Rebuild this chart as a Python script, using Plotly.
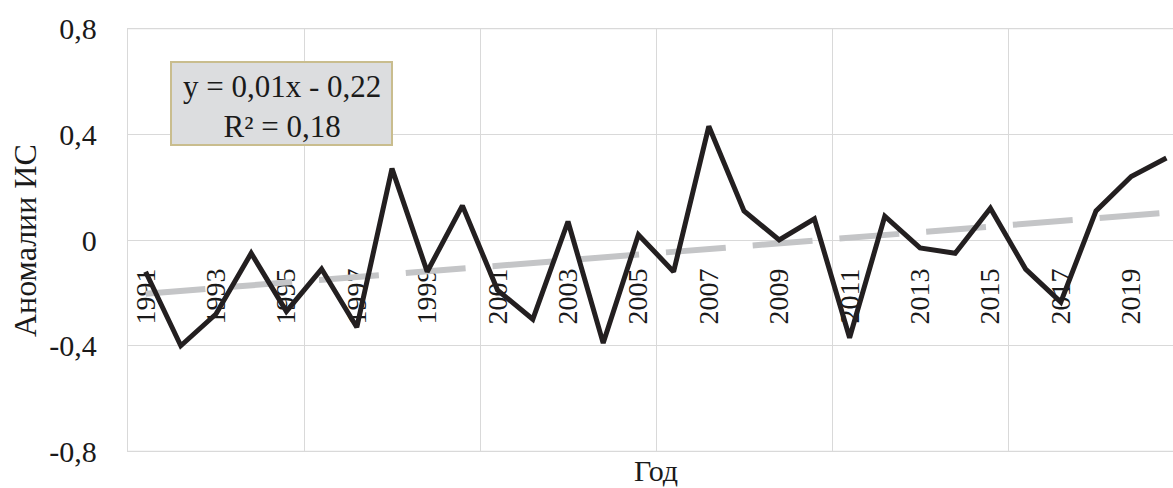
import numpy as np
import plotly.graph_objects as go

years = list(range(1991, 2021))
anomalies = [-0.12, -0.40, -0.28, -0.05, -0.27, -0.11, -0.33, 0.27, -0.12, 0.13,
             -0.19, -0.30, 0.07, -0.39, 0.02, -0.12, 0.43, 0.11, 0.0, 0.08,
             -0.37, 0.09, -0.03, -0.05, 0.12, -0.11, -0.235, 0.11, 0.24, 0.31]
label_years = [y for y in years if y % 2 == 1]
label_text = [str(y) for y in label_years]
y_ticks = [-0.8, -0.4, 0, 0.4, 0.8]
y_labels = ["-0,8", "-0,4", "0", "0,4", "0,8"]
equation_lines = ["y = 0,01x - 0,22", "R² = 0,18"]

# linear trend (as in Excel) over category index
idx = np.arange(1, len(years) + 1)
k, b = np.polyfit(idx, anomalies, 1)
trend = (k * idx + b).tolist()

FONT = "Liberation Serif, Times New Roman, serif"
TXT = "#1a1a1a"
GRID = "#d9d9d9"

fig = go.Figure()
fig.add_trace(go.Scatter(x=years, y=trend, mode="lines",
                         line=dict(color="#c4c5c7", width=6, dash="60px,27px"),
                         hoverinfo="skip", showlegend=False))
fig.add_trace(go.Scatter(x=years, y=anomalies, mode="lines",
                         line=dict(color="#231f20", width=5),
                         showlegend=False))

W, H = 1173, 488
L, T, B = 128, 28, 36
pxyr = 35.2
xr = [1990.5, 1990.5 + (W - L) / pxyr]

fig.update_layout(
    width=W, height=H,
    margin=dict(l=L, r=0, t=T, b=B, pad=0),
    paper_bgcolor="white", plot_bgcolor="white",
    font=dict(family=FONT, color=TXT),
    showlegend=False,
    xaxis=dict(
        range=xr, tickmode="array", tickvals=label_years, ticktext=label_text,
        tickangle=-90, tickfont=dict(size=28, family=FONT, color=TXT),
        showgrid=False, zeroline=False, showline=False, ticks="",
        anchor="free", position=0.5, layer="below traces",
        ticklabelstandoff=22,
        minor=dict(tick0=1990.5, dtick=5, showgrid=True, gridcolor=GRID,
                   gridwidth=1.3, ticks=""),
    ),
    yaxis=dict(
        range=[-0.802, 0.802], tickmode="array", tickvals=y_ticks, ticktext=y_labels,
        tickfont=dict(size=30, family=FONT, color=TXT),
        showgrid=True, gridcolor=GRID, gridwidth=1.3,
        zeroline=True, zerolinecolor=GRID, zerolinewidth=1.3,
        showline=True, linecolor=GRID, linewidth=1.3,
        ticks="", ticklabelstandoff=24,
    ),
)

# outer horizontal gridlines (top/bottom of the value axis)
for v in (y_ticks[0], y_ticks[-1]):
    fig.add_shape(type="line", xref="paper", yref="y", x0=0, x1=1, y0=v, y1=v,
                  line=dict(color=GRID, width=1.3), layer="below")

def py(p):
    return (H - B - p) / (H - T - B)

def px(p):
    return (p - L) / (W - L)

fig.add_shape(type="rect", xref="paper", yref="paper",
              x0=px(171), x1=px(392), y0=py(145), y1=py(62),
              fillcolor="#dcdddf", line=dict(color="#c9bd8e", width=2),
              layer="above")
fig.add_annotation(xref="paper", yref="paper", x=px(281.5), y=py(106),
                   text="<br>".join(equation_lines), showarrow=False,
                   xanchor="center", yanchor="middle", align="center",
                   font=dict(size=31, family=FONT, color=TXT))
fig.add_annotation(xref="paper", yref="paper", x=px(25), y=py(241),
                   text="Аномалии ИС", textangle=-90, showarrow=False,
                   xanchor="center", yanchor="middle",
                   font=dict(size=32, family=FONT, color=TXT))
fig.add_annotation(xref="paper", yref="paper", x=px(656), y=py(470),
                   text="Год", showarrow=False,
                   xanchor="center", yanchor="middle",
                   font=dict(size=30, family=FONT, color=TXT))

fig.write_html("out.html")
